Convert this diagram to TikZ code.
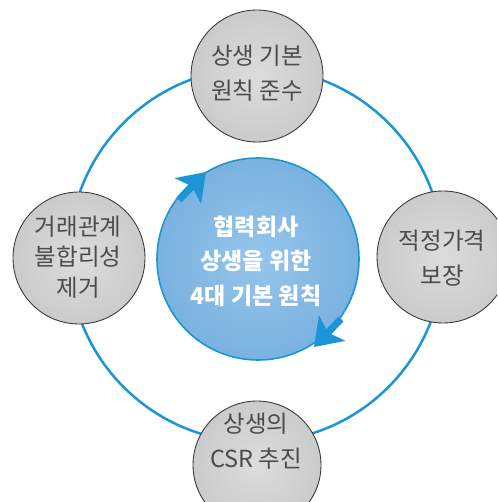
\documentclass[tikz,border=0pt]{standalone}
\usepackage{fontspec}
\setmainfont{Noto Sans CJK KR}
\usetikzlibrary{arrows.meta,calc}
\definecolor{ringblue}{HTML}{1B95D5}
\definecolor{textgray}{HTML}{4C4C4C}
\definecolor{edgegray}{HTML}{3C3C3C}
\definecolor{grayin}{HTML}{DCDCDC}
\definecolor{grayout}{HTML}{CBCBCB}
\definecolor{bluein}{HTML}{96C5EA}
\definecolor{blueout}{HTML}{7AB2E0}
\tikzset{
  graycirc/.style={circle, draw=edgegray, line width=0.9pt, inner color=grayin, outer color=grayout, minimum size=132pt, inner sep=0pt},
  bluecirc/.style={circle, draw=ringblue, line width=1.6pt, inner color=bluein, outer color=blueout, minimum size=202pt, inner sep=0pt},
  graytext/.style={text=textgray, align=center, font=\fontsize{23.5}{35}\selectfont},
  whitetext/.style={text=white, align=center, font=\bfseries\fontsize{23}{34.5}\selectfont},
  ring/.style={draw=ringblue, line width=2.5pt},
  turnarrow/.style={draw=ringblue, line width=7pt, -{Stealth[length=26pt, width=36pt, inset=6pt]}}
}
\begin{document}
\begin{tikzpicture}[x=1pt,y=-1pt]
\useasboundingbox (0,0) rectangle (497,502);
\clip (0,0) rectangle (497,502);
\coordinate (o) at (256,255);
\draw[ring] (o) circle[radius=187];
\node[graycirc] (top) at (257,76) {};
\node[graycirc] (left) at (79,258) {};
\node[graycirc] (right) at (443,257) {};
\node[graycirc, minimum size=128pt] (bottom) at (257,465) {};
\node[bluecirc] (center) at (258,259) {};
\coordinate (a1s) at (179,200);
\coordinate (a1e) at (206,172);
\coordinate (a2s) at (341,319);
\coordinate (a2e) at (314,347);
\draw[turnarrow] (a1s) -- (a1e);
\draw[turnarrow] (a2s) -- (a2e);
\node[graytext] (toptext) at (257,73.5) {상생 기본\\원칙 준수};
\node[graytext, font=\fontsize{23.5}{30.5}\selectfont] (lefttext) at (78,257) {거래관계\\불합리성\\제거};
\node[graytext] (righttext) at (442,258.5) {적정가격\\보장};
\node[graytext] (bottomtext) at (256,441.5) {상생의\\CSR 추진};
\node[whitetext] (centertext) at (256,261) {협력회사\\상생을 위한\\4대 기본 원칙};
\end{tikzpicture}
\end{document}
